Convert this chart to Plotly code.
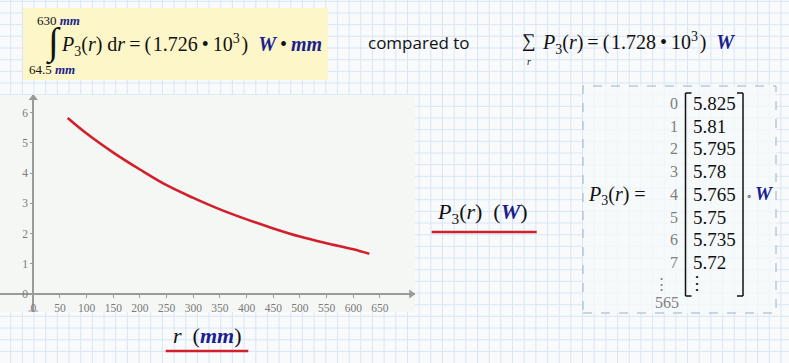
import plotly.graph_objects as go

# ---- data ----
r_mm = [64.5, 100, 150, 200, 250, 300, 350, 400, 450, 500, 550, 600, 630]
p3_W = [5.825, 5.31, 4.68, 4.12, 3.60, 3.18, 2.80, 2.47, 2.17, 1.90, 1.68, 1.48, 1.33]
x_ticks = [0, 50, 100, 150, 200, 250, 300, 350, 400, 450, 500, 550, 600, 650]
y_ticks = [0, 1, 2, 3, 4, 5, 6]
mat_index = ["0", "1", "2", "3", "4", "5", "6", "7"]
mat_values = ["5.825", "5.81", "5.795", "5.78", "5.765", "5.75", "5.735", "5.72"]
last_index = "565"
integral_value = "1.726"
sum_value = "1.728"

W, H = 789, 363
SERIF = "Liberation Serif, Times New Roman, serif"
MATH = SERIF
NAVY = "#1b1f8f"
RED = "#d21f2c"
AXIS_GRAY = "#9a9a9a"


def px(x):
    return x / W


def py(y):
    return 1 - y / H


# axis geometry (pixels)
x0_px, x_scale = 33.3, 0.5333
y0_px, y_scale = 294.0, 30.22
plot_l, plot_r, plot_t, plot_b = 0, 415, 95, 312
xr = [(plot_l - x0_px) / x_scale, (plot_r - x0_px) / x_scale]
yr = [(y0_px - plot_b) / y_scale, (y0_px - plot_t) / y_scale]

shapes = []
# background grid paper
step = 11.67
gx = 10.7
while gx < W:
    shapes.append(dict(type="line", xref="paper", yref="paper", x0=px(gx), x1=px(gx), y0=0, y1=1,
                       line=dict(color="#d9e6f6", width=1), layer="below"))
    gx += step
gy = 1.3
while gy < H:
    shapes.append(dict(type="line", xref="paper", yref="paper", x0=0, x1=1, y0=py(gy), y1=py(gy),
                       line=dict(color="#d9e6f6", width=1), layer="below"))
    gy += step

# plot area background
shapes.append(dict(type="rect", xref="paper", yref="paper", x0=px(plot_l), x1=px(plot_r),
                   y0=py(plot_b), y1=py(plot_t), fillcolor="#f5f7f4", line=dict(width=0), layer="below"))
# yellow formula box
shapes.append(dict(type="rect", xref="paper", yref="paper", x0=px(23), x1=px(328), y0=py(80), y1=py(8),
                   fillcolor="#fcf6c8", line=dict(width=0), layer="below"))
# matrix region box
shapes.append(dict(type="rect", xref="paper", yref="paper", x0=px(583), x1=px(776), y0=py(313), y1=py(86),
                   fillcolor="rgba(246,249,249,0.75)", line=dict(color="#9fb0c4", width=1, dash="dash"),
                   layer="below"))
# red underlines of axis labels
shapes.append(dict(type="line", xref="paper", yref="paper", x0=px(431.7), x1=px(536.7), y0=py(232), y1=py(232),
                   line=dict(color=RED, width=2.5)))
shapes.append(dict(type="line", xref="paper", yref="paper", x0=px(165.7), x1=px(248.3), y0=py(351), y1=py(351),
                   line=dict(color=RED, width=2.5)))
# matrix brackets
for bx, d in [(685.5, 6), (743.0, -6)]:
    shapes.append(dict(type="line", xref="paper", yref="paper", x0=px(bx), x1=px(bx), y0=py(296), y1=py(93),
                       line=dict(color="#111", width=1.5)))
    for by in (93, 296):
        shapes.append(dict(type="line", xref="paper", yref="paper", x0=px(bx), x1=px(bx + d), y0=py(by), y1=py(by),
                           line=dict(color="#111", width=1.5)))
# small end tick at bottom of y-axis
shapes.append(dict(type="line", xref="paper", yref="paper", x0=px(x0_px - 5), x1=px(x0_px + 5),
                   y0=py(311), y1=py(311), line=dict(color=AXIS_GRAY, width=1)))

fig = go.Figure()
fig.add_trace(go.Scatter(x=r_mm, y=p3_W, mode="lines", line=dict(color=RED, width=2.6, shape="spline"),
                         hoverinfo="skip", showlegend=False))
# axis arrow heads
fig.add_trace(go.Scatter(x=[xr[1] - 7], y=[0], mode="markers",
                         marker=dict(symbol="triangle-right", size=8, color=AXIS_GRAY), showlegend=False,
                         hoverinfo="skip"))
fig.add_trace(go.Scatter(x=[0], y=[yr[1] - 0.1], mode="markers",
                         marker=dict(symbol="triangle-up", size=8, color=AXIS_GRAY), showlegend=False,
                         hoverinfo="skip"))

ann = []


def text(x, y, s, size=18, color="#111", xanchor="left", family=MATH, yanchor="middle"):
    ann.append(dict(xref="paper", yref="paper", x=px(x), y=py(y), text=s, showarrow=False,
                    xanchor=xanchor, yanchor=yanchor, font=dict(family=family, size=size, color=color)))


def unit(s):
    return f"<span style='color:{NAVY}'><b><i>{s}</i></b></span>"


P3 = "<i>P</i><sub>3</sub>(<i>r</i>)"
DOT = "\u2009•\u2009"
HS = "\u200a"

# integral formula
text(35, 20, "630 " + unit("mm"), size=13)
text(27, 70, "64.5 " + unit("mm"), size=13)
text(53.5, 42, "∫", size=38, xanchor="center")
text(59, 45, P3 + " d<i>r</i>\u2009=\u2009(" + HS + integral_value + DOT + "10<sup>3</sup>" + HS + ")\u2002"
     + unit("W") + DOT + unit("mm"), size=20)
# compared to
text(366, 43, "compared to", size=17, family="Open Sans, Arial, sans-serif")
# sum formula
text(529, 41, "∑", size=19, xanchor="center")
text(529, 62, "<i>r</i>", size=10, xanchor="center")
text(540, 43, P3 + "\u2009=\u2009(" + HS + sum_value + DOT + "10<sup>3</sup>" + HS + ")\u2002" + unit("W"),
     size=20)
# axis labels
text(435, 213, P3 + "\u2002(" + unit("W") + ")", size=22)
text(171, 335, "<i>r</i>\u2002(" + unit("mm") + ")", size=22)
# matrix display
text(586, 195, P3 + " =", size=20)
row0, dy = 103.3, 22.75
for i, (idx, val) in enumerate(zip(mat_index, mat_values)):
    yy = row0 + i * dy
    text(680, yy, idx, size=16, color="#808080", xanchor="right")
    text(691, yy, val, size=19)
text(661, 284, "⋮", size=15, color="#808080", xanchor="center")
text(697, 283, "⋮", size=18, xanchor="center")
text(667, 302, last_index, size=16, color="#808080", xanchor="center")
text(749, 195, "∘", size=10, color="#555", xanchor="center")
text(753, 194, unit("W"), size=19)

fig.update_layout(
    width=W, height=H, margin=dict(l=0, r=0, t=0, b=0),
    paper_bgcolor="#f8fafb", plot_bgcolor="rgba(0,0,0,0)",
    shapes=shapes, annotations=ann, showlegend=False,
    xaxis=dict(domain=[px(plot_l), px(plot_r)], range=xr, anchor="free", position=py(y0_px),
               showgrid=False, zeroline=True, zerolinecolor=AXIS_GRAY, zerolinewidth=1.5,
               showline=False, tickvals=x_ticks, ticks="outside", ticklen=3, tickcolor=AXIS_GRAY,
               tickfont=dict(family=SERIF, size=11.5, color="#7a7a7a"), fixedrange=True),
    yaxis=dict(domain=[py(plot_b), py(plot_t)], range=yr, anchor="free", position=px(x0_px),
               showgrid=False, zeroline=True, zerolinecolor=AXIS_GRAY, zerolinewidth=1.5,
               showline=False, tickvals=y_ticks, ticks="outside", ticklen=3, tickcolor=AXIS_GRAY,
               tickfont=dict(family=SERIF, size=11.5, color="#7a7a7a"), fixedrange=True),
)

fig.write_html("out.html", config=dict(displayModeBar=False))
